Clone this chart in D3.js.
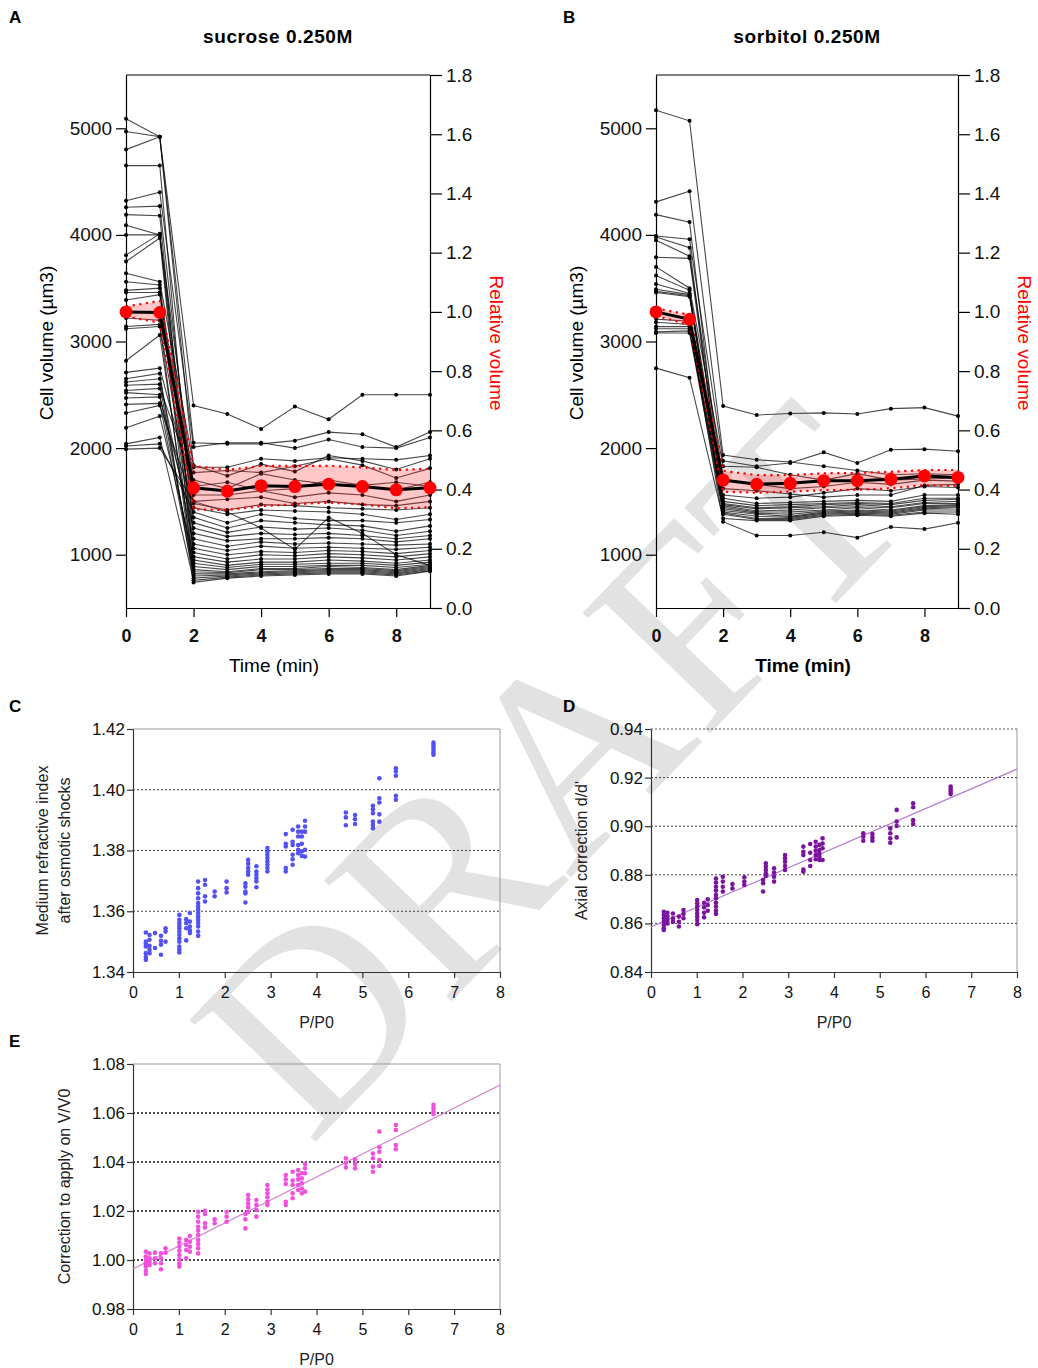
<!DOCTYPE html>
<html><head><meta charset="utf-8">
<script src="https://cdn.jsdelivr.net/npm/d3@7"></script>
<style>body{margin:0;background:#fff}svg{display:block;font-family:"Liberation Sans",Arial,sans-serif}</style>
</head><body>
<script>
// ---------------- DATA ----------------
const timesMin = [0, 1, 2, 3, 4, 5, 6, 7, 8, 9];
const timeTicks = [0, 2, 4, 6, 8];
const volumeTicks = [1000, 2000, 3000, 4000, 5000];
const relativeTicks = [0, 0.2, 0.4, 0.6, 0.8, 1.0, 1.2, 1.4, 1.6, 1.8];

// Panel A: sucrose 0.250M, cell volumes (µm3) per cell, t = 0..9 min
const sucroseVolumes = [
  [5090, 4920, 2400, 2320, 2180, 2390, 2270, 2500, 2500, 2500],
  [4970, 4920, 2050, 2040, 2040, 2070, 2150, 2130, 2010, 2150],
  [4800, 4920, 1820, 1820, 1900, 1880, 1910, 1900, 1890, 1930],
  [4650, 4650, 1150, 1080, 1120, 1100, 1110, 1100, 1090, 1100],
  [4320, 4400, 2010, 2050, 2050, 2000, 2080, 2010, 2000, 2100],
  [4260, 4270, 1440, 1380, 1420, 1410, 1400, 1380, 1330, 1380],
  [4190, 4180, 950, 900, 930, 930, 950, 940, 920, 950],
  [4090, 4000, 1640, 1680, 1600, 1620, 1700, 1650, 1680, 1640],
  [4000, 4000, 1060, 1000, 1030, 1020, 1040, 1030, 1010, 1040],
  [3810, 4010, 1300, 1210, 1260, 1240, 1250, 1230, 1180, 1220],
  [3750, 3970, 860, 840, 870, 870, 890, 880, 860, 900],
  [3640, 3560, 1840, 1740, 1850, 1780, 1930, 1880, 1800, 1900],
  [3560, 3530, 1200, 1130, 1150, 1150, 1160, 1150, 1120, 1150],
  [3480, 3500, 800, 810, 830, 840, 850, 850, 830, 870],
  [3460, 3460, 1500, 1520, 1540, 1480, 1500, 1470, 1460, 1500],
  [3390, 3440, 1020, 960, 1000, 990, 1010, 1000, 980, 1010],
  [3220, 3200, 1770, 1790, 1770, 1830, 1900, 1840, 1720, 1810],
  [3140, 3160, 780, 800, 820, 830, 840, 840, 820, 860],
  [3120, 3140, 1350, 1250, 1320, 1300, 1280, 1270, 1220, 1270],
  [2820, 3060, 920, 880, 910, 910, 920, 920, 900, 930],
  [2710, 2750, 1560, 1560, 1600, 1540, 1580, 1560, 1500, 1560],
  [2650, 2700, 740, 780, 800, 810, 820, 820, 800, 845],
  [2620, 2650, 1100, 1040, 1080, 1060, 1070, 1060, 1050, 1070],
  [2590, 2600, 840, 830, 860, 860, 870, 870, 850, 890],
  [2540, 2560, 1700, 1620, 1760, 1700, 1660, 1640, 1610, 1680],
  [2520, 2500, 890, 860, 890, 890, 900, 900, 880, 910],
  [2470, 2480, 1250, 1170, 1200, 1190, 1200, 1180, 1150, 1180],
  [2410, 2420, 820, 820, 840, 850, 860, 860, 840, 880],
  [2330, 2400, 1480, 1420, 1470, 1460, 1440, 1430, 1420, 1440],
  [2190, 2300, 980, 930, 960, 960, 980, 970, 950, 980],
  [2040, 2100, 760, 790, 810, 820, 830, 830, 810, 850],
  [2020, 2040, 1400, 1300, 1380, 1340, 1320, 1320, 1300, 1330],
  [1990, 2000, 1500, 1400, 1250, 1050, 1350, 1200, 1000, 900]
];
const sucroseMeanRel  = [1.00, 0.998, 0.406, 0.395, 0.413, 0.410, 0.418, 0.410, 0.399, 0.406];
const sucroseUpperRel = [1.018, 1.037, 0.480, 0.466, 0.480, 0.480, 0.480, 0.475, 0.466, 0.470];
const sucroseLowerRel = [0.984, 0.964, 0.333, 0.331, 0.344, 0.350, 0.356, 0.350, 0.337, 0.340];

// Panel B: sorbitol 0.250M
const sorbitolVolumes = [
  [5170, 5070, 2395, 2310, 2325, 2330, 2320, 2370, 2380, 2300],
  [4310, 4410, 1935, 1890, 1870, 1830, 1790, 1750, 1760, 1750],
  [4190, 4120, 1460, 1410, 1420, 1440, 1450, 1440, 1480, 1480],
  [3990, 3960, 1880, 1830, 1860, 1960, 1860, 1985, 1990, 1970],
  [3980, 3880, 1430, 1390, 1380, 1410, 1420, 1410, 1450, 1460],
  [3950, 3800, 1700, 1660, 1620, 1640, 1680, 1660, 1700, 1690],
  [3790, 3780, 1500, 1460, 1470, 1480, 1490, 1480, 1530, 1530],
  [3700, 3500, 1830, 1820, 1750, 1700, 1760, 1700, 1710, 1720],
  [3620, 3480, 1400, 1360, 1350, 1390, 1400, 1390, 1430, 1440],
  [3540, 3450, 1620, 1600, 1570, 1540, 1560, 1560, 1650, 1660],
  [3490, 3440, 1470, 1430, 1440, 1450, 1470, 1450, 1490, 1500],
  [3470, 3430, 1380, 1330, 1330, 1370, 1380, 1370, 1400, 1400],
  [3460, 3420, 1560, 1530, 1540, 1580, 1620, 1600, 1640, 1630],
  [3210, 3190, 1445, 1400, 1400, 1420, 1440, 1420, 1460, 1470],
  [3180, 3160, 1310, 1180, 1180, 1210, 1160, 1260, 1240, 1300],
  [3140, 3140, 1530, 1480, 1490, 1500, 1510, 1500, 1560, 1560],
  [3120, 3120, 1415, 1380, 1360, 1400, 1410, 1400, 1440, 1450],
  [3090, 3100, 1480, 1440, 1450, 1470, 1480, 1470, 1510, 1520],
  [3080, 3080, 1390, 1340, 1340, 1380, 1390, 1380, 1420, 1420],
  [2750, 2660, 1340, 1320, 1320, 1360, 1370, 1360, 1390, 1380]
];
const sorbitolMeanRel  = [1.00, 0.975, 0.432, 0.418, 0.421, 0.430, 0.430, 0.435, 0.446, 0.441];
const sorbitolUpperRel = [1.012, 0.990, 0.463, 0.449, 0.449, 0.455, 0.456, 0.460, 0.466, 0.466];
const sorbitolLowerRel = [0.987, 0.956, 0.393, 0.389, 0.393, 0.398, 0.399, 0.404, 0.415, 0.412];

// Panels C, D, E: one column of points per P/P0 value
const pressureRatio = [0.28, 0.36, 0.48, 0.61, 0.71, 1.01, 1.16, 1.24, 1.42, 1.57, 1.78, 2.04, 2.45, 2.51, 2.69, 2.93, 3.33, 3.48, 3.60, 3.68, 3.75, 4.64, 4.84, 5.23, 5.37, 5.73, 6.55];
const refractiveIndex = [
  [1.3530, 1.3500, 1.3493, 1.3484, 1.3462, 1.3449, 1.3440],
  [1.3522, 1.3506, 1.3486, 1.3473, 1.3462],
  [1.3528, 1.3479],
  [1.3519, 1.3503, 1.3490, 1.3457],
  [1.3544, 1.3533, 1.3500],
  [1.3588, 1.3572, 1.3561, 1.3552, 1.3544, 1.3533, 1.3522, 1.3511, 1.3500, 1.3484, 1.3473, 1.3464],
  [1.3574, 1.3561, 1.3544, 1.3504],
  [1.3594, 1.3566, 1.3550, 1.3537, 1.3528],
  [1.3698, 1.3676, 1.3659, 1.3643, 1.3627, 1.3616, 1.3605, 1.3594, 1.3583, 1.3572, 1.3561, 1.3550, 1.3533, 1.3519],
  [1.3703, 1.3687, 1.3649, 1.3632],
  [1.3665, 1.3649],
  [1.3698, 1.3676, 1.3662],
  [1.3692, 1.3681, 1.3665, 1.3659, 1.3629],
  [1.3769, 1.3756, 1.3742, 1.3731, 1.3720],
  [1.3748, 1.3731, 1.3720, 1.3709, 1.3698, 1.3679],
  [1.3808, 1.3797, 1.3786, 1.3775, 1.3764, 1.3753, 1.3742, 1.3731],
  [1.3854, 1.3822, 1.3813, 1.3742, 1.3731],
  [1.3868, 1.3829, 1.3818, 1.3786, 1.3771, 1.3753],
  [1.3879, 1.3862, 1.3846, 1.3818, 1.3802, 1.3791],
  [1.3862, 1.3846, 1.3822, 1.3797, 1.3782],
  [1.3898, 1.3879, 1.3862, 1.3802, 1.3780],
  [1.3925, 1.3909, 1.3883],
  [1.3917, 1.3903, 1.3887],
  [1.3947, 1.3936, 1.3923, 1.3895, 1.3884, 1.3873],
  [1.4038, 1.3972, 1.3958, 1.3919, 1.3895],
  [1.4071, 1.4060, 1.4046, 1.3980, 1.3967],
  [1.4155, 1.4147, 1.4140, 1.4131, 1.4122, 1.4115]
];
const axialCorrection = [
  [0.8648, 0.8635, 0.8621, 0.8607, 0.8593, 0.8580, 0.8573],
  [0.8644, 0.8628, 0.8614, 0.8600],
  [0.8641, 0.8621, 0.8607],
  [0.8628, 0.8607, 0.8587],
  [0.8655, 0.8639, 0.8621],
  [0.8696, 0.8683, 0.8669, 0.8655, 0.8641, 0.8628, 0.8614, 0.8597],
  [0.8685, 0.8666, 0.8644, 0.8625],
  [0.8699, 0.8676, 0.8652],
  [0.8785, 0.8768, 0.8751, 0.8735, 0.8717, 0.8703, 0.8685, 0.8669, 0.8652, 0.8639],
  [0.8792, 0.8772, 0.8751, 0.8731],
  [0.8762, 0.8744],
  [0.8790, 0.8772, 0.8758],
  [0.8779, 0.8765, 0.8731],
  [0.8847, 0.8833, 0.8820, 0.8806, 0.8795],
  [0.8827, 0.8809, 0.8792, 0.8772],
  [0.8881, 0.8868, 0.8854, 0.8836, 0.8820],
  [0.8916, 0.8895, 0.8881, 0.8822, 0.8813],
  [0.8927, 0.8891, 0.8861, 0.8836],
  [0.8936, 0.8916, 0.8899, 0.8881, 0.8864],
  [0.8923, 0.8902, 0.8888, 0.8875, 0.8861],
  [0.8950, 0.8929, 0.8909, 0.8861],
  [0.8971, 0.8957, 0.8940],
  [0.8968, 0.8954, 0.8940],
  [0.8991, 0.8971, 0.8950, 0.8932],
  [0.9067, 0.9019, 0.9001, 0.8954],
  [0.9094, 0.9078, 0.9025, 0.9009],
  [0.9163, 0.9152, 0.9142, 0.9132]
];
const volumeCorrection = [
  [1.0034, 1.0014, 1.0000, 0.9987, 0.9973, 0.9956, 0.9943],
  [1.0027, 1.0007, 0.9993, 0.9980],
  [1.0030, 1.0007, 0.9987],
  [1.0027, 1.0007, 0.9987, 0.9962],
  [1.0048, 1.0030],
  [1.0088, 1.0071, 1.0054, 1.0038, 1.0020, 1.0003, 0.9987, 0.9973],
  [1.0082, 1.0061, 1.0041, 1.0007],
  [1.0098, 1.0075, 1.0054, 1.0034],
  [1.0197, 1.0177, 1.0156, 1.0136, 1.0120, 1.0102, 1.0082, 1.0065, 1.0048, 1.0027],
  [1.0201, 1.0188, 1.0150, 1.0133],
  [1.0166, 1.0150],
  [1.0197, 1.0177, 1.0156],
  [1.0188, 1.0166, 1.0129],
  [1.0265, 1.0248, 1.0231, 1.0215, 1.0197],
  [1.0245, 1.0225, 1.0204, 1.0177],
  [1.0306, 1.0288, 1.0272, 1.0256, 1.0238, 1.0225],
  [1.0347, 1.0329, 1.0310, 1.0238, 1.0225],
  [1.0360, 1.0324, 1.0306, 1.0272, 1.0252],
  [1.0367, 1.0347, 1.0329, 1.0306, 1.0286],
  [1.0354, 1.0333, 1.0313, 1.0292, 1.0272],
  [1.0392, 1.0374, 1.0354, 1.0279],
  [1.0415, 1.0397, 1.0378],
  [1.0411, 1.0392, 1.0374],
  [1.0435, 1.0415, 1.0381, 1.0360],
  [1.0524, 1.0460, 1.0442, 1.0408, 1.0384],
  [1.0551, 1.0531, 1.0469, 1.0452],
  [1.0633, 1.0619, 1.0605, 1.0596]
];
const axialFit = [[0, 0.8585], [8, 0.9235]];
const volumeFit = [[0, 0.9963], [8, 1.0714]];
const pressureTicks = [0, 1, 2, 3, 4, 5, 6, 7, 8];
const refractiveTicks = [1.34, 1.36, 1.38, 1.40, 1.42];
const axialTicks = [0.84, 0.86, 0.88, 0.90, 0.92, 0.94];
const correctionTicks = [0.98, 1.00, 1.02, 1.04, 1.06, 1.08];

// ---------------- DRAWING ----------------
const svg = d3.select("body").append("svg").attr("width", 1038).attr("height", 1368);
svg.append("rect").attr("width", 1038).attr("height", 1368).attr("fill", "#fff");

// watermark (behind everything)
svg.append("text")
  .attr("transform", "translate(550,768) rotate(-46)")
  .attr("text-anchor", "middle").attr("dy", "0.34em")
  .style("font-family", "'Liberation Serif','Times New Roman',serif")
  .style("font-size", "268px").attr("fill", "#e2e2e2")
  .text("DRAFT");

function styleAxis(g, color, fontSize, bold) {
  g.selectAll("path.domain").attr("stroke", color).attr("stroke-width", 1.2);
  g.selectAll(".tick line").attr("stroke", color).attr("stroke-width", 1.2);
  g.selectAll(".tick text").attr("fill", "#111")
    .style("font-size", fontSize + "px")
    .style("font-family", "'Liberation Sans',Arial,sans-serif")
    .style("font-weight", bold ? "bold" : "normal");
}

function timePanel(cfg) {
  const x = d3.scaleLinear().domain([0, 9]).range([cfg.x0, cfg.x1]);
  const yV = d3.scaleLinear().domain([500, 5500]).range([608, 75]);
  const yR = d3.scaleLinear().domain([0, 1.8]).range([608, 75]);
  const g = svg.append("g");

  // top frame
  g.append("line").attr("x1", cfg.x0).attr("x2", cfg.x1).attr("y1", 75).attr("y2", 75)
    .attr("stroke", "#000").attr("stroke-width", 1.2);

  const ax = g.append("g").attr("transform", "translate(0,608)")
    .call(d3.axisBottom(x).tickValues(timeTicks).tickSize(9).tickSizeOuter(0).tickPadding(12).tickFormat(d3.format("d")));
  styleAxis(ax, "#000", 18, true);
  const al = g.append("g").attr("transform", `translate(${cfg.x0},0)`)
    .call(d3.axisLeft(yV).tickValues(volumeTicks).tickSize(10).tickSizeOuter(0).tickPadding(4).tickFormat(d3.format("d")));
  styleAxis(al, "#000", 19, false);
  const ar = g.append("g").attr("transform", `translate(${cfg.x1},0)`)
    .call(d3.axisRight(yR).tickValues(relativeTicks).tickSize(12).tickSizeOuter(0).tickPadding(4).tickFormat(d3.format(".1f")));
  styleAxis(ar, "#000", 19, false);

  // individual cells
  const line = d3.line().x((d, i) => x(timesMin[i])).y(d => yV(d));
  cfg.volumes.forEach(row => {
    g.append("path").datum(row).attr("d", line).attr("fill", "none")
      .attr("stroke", "#000").attr("stroke-opacity", 0.72).attr("stroke-width", 1.1);
    g.selectAll(null).data(row).enter().append("circle")
      .attr("cx", (d, i) => x(timesMin[i])).attr("cy", d => yV(d)).attr("r", 2).attr("fill", "#000");
  });

  // SD band
  const area = d3.area().x((d, i) => x(timesMin[i]))
    .y0((d, i) => yR(cfg.lower[i])).y1((d, i) => yR(cfg.upper[i]));
  g.append("path").datum(cfg.mean).attr("d", area).attr("fill", "#ff2020").attr("fill-opacity", 0.25);
  const lr = d3.line().x((d, i) => x(timesMin[i])).y(d => yR(d));
  [cfg.upper, cfg.lower].forEach(arr => {
    g.append("path").datum(arr).attr("d", lr).attr("fill", "none")
      .attr("stroke", "#ff0000").attr("stroke-width", 2.2).attr("stroke-dasharray", "2.2,4.5");
  });
  g.append("path").datum(cfg.mean).attr("d", lr).attr("fill", "none")
    .attr("stroke", "#000").attr("stroke-width", 3);
  g.selectAll(null).data(cfg.mean).enter().append("circle")
    .attr("cx", (d, i) => x(timesMin[i])).attr("cy", d => yR(d)).attr("r", 6.5).attr("fill", "#ff0000");

  // texts
  svg.append("text").attr("x", cfg.letterX).attr("y", 23).text(cfg.letter)
    .style("font-size", "17px").style("font-weight", "bold");
  svg.append("text").attr("x", (cfg.x0 + cfg.x1) / 2).attr("y", 43).attr("text-anchor", "middle")
    .text(cfg.title).style("font-size", "19px").style("font-weight", "bold").style("letter-spacing", "0.6px");
  svg.append("text").attr("x", (cfg.x0 + cfg.x1) / 2 - 4).attr("y", 672).attr("text-anchor", "middle")
    .text("Time (min)").style("font-size", "19px").style("font-weight", cfg.boldX ? "bold" : "normal");
  svg.append("text").attr("transform", `translate(${cfg.x0 - 73},343) rotate(-90)`).attr("text-anchor", "middle")
    .text("Cell volume (µm3)").style("font-size", "19px");
  svg.append("text").attr("transform", `translate(${cfg.x1 + 60},343) rotate(90)`).attr("text-anchor", "middle")
    .text("Relative volume").style("font-size", "19px").attr("fill", "#ff0000");
}

timePanel({ x0: 126, x1: 430, volumes: sucroseVolumes, mean: sucroseMeanRel, upper: sucroseUpperRel,
  lower: sucroseLowerRel, title: "sucrose 0.250M", letter: "A", letterX: 9, boldX: false });
timePanel({ x0: 656, x1: 958, volumes: sorbitolVolumes, mean: sorbitolMeanRel, upper: sorbitolUpperRel,
  lower: sorbitolLowerRel, title: "sorbitol 0.250M", letter: "B", letterX: 563, boldX: true });

function scatterPanel(cfg) {
  const x = d3.scaleLinear().domain([0, 8]).range([cfg.x0, cfg.x1]);
  const y = d3.scaleLinear().domain(cfg.domain).range([cfg.yb, cfg.yt]);
  const g = svg.append("g");
  // frame (top/right)
  g.append("line").attr("x1", cfg.x0).attr("x2", cfg.x1).attr("y1", cfg.yt).attr("y2", cfg.yt)
    .attr("stroke", cfg.topDotted ? "#555" : "#999").attr("stroke-width", 1)
    .attr("stroke-dasharray", cfg.topDotted ? "2,2" : null);
  g.append("line").attr("x1", cfg.x1).attr("x2", cfg.x1).attr("y1", cfg.yt).attr("y2", cfg.yb)
    .attr("stroke", "#999").attr("stroke-width", 1);
  // grid
  cfg.grid.forEach(v => {
    g.append("line").attr("x1", cfg.x0).attr("x2", cfg.x1).attr("y1", y(v)).attr("y2", y(v))
      .attr("stroke", cfg.gridColor).attr("stroke-width", cfg.gridWidth).attr("stroke-dasharray", "2,2");
  });
  const ax = g.append("g").attr("transform", `translate(0,${cfg.yb})`)
    .call(d3.axisBottom(x).tickValues(pressureTicks).tickSize(6).tickSizeOuter(0).tickPadding(9).tickFormat(d3.format("d")));
  styleAxis(ax, "#333", 16, false);
  const ay = g.append("g").attr("transform", `translate(${cfg.x0},0)`)
    .call(d3.axisLeft(y).tickValues(cfg.ticks).tickSize(6).tickSizeOuter(0).tickPadding(2).tickFormat(d3.format(".2f")));
  styleAxis(ay, "#333", 17, false);

  if (cfg.fit) {
    g.append("line").attr("x1", x(cfg.fit[0][0])).attr("y1", y(cfg.fit[0][1]))
      .attr("x2", x(cfg.fit[1][0])).attr("y2", y(cfg.fit[1][1]))
      .attr("stroke", cfg.fitColor).attr("stroke-width", 1.2);
  }
  cfg.values.forEach((col, i) => {
    g.selectAll(null).data(col).enter().append("circle")
      .attr("cx", x(pressureRatio[i])).attr("cy", d => y(d)).attr("r", 2.3).attr("fill", cfg.color);
  });

  svg.append("text").attr("x", cfg.letterX).attr("y", cfg.yt - 17).text(cfg.letter)
    .style("font-size", "17px").style("font-weight", "bold");
  svg.append("text").attr("x", (cfg.x0 + cfg.x1) / 2).attr("y", cfg.yb + 56).attr("text-anchor", "middle")
    .text("P/P0").style("font-size", "16px").attr("fill", "#222");
  cfg.ylabel.forEach((t, k) => {
    svg.append("text").attr("transform", `translate(${cfg.ylx + k * 22},${(cfg.yt + cfg.yb) / 2}) rotate(-90)`)
      .attr("text-anchor", "middle").text(t).style("font-size", "16px").attr("fill", "#222");
  });
}

scatterPanel({ x0: 133, x1: 500, yt: 729, yb: 972, domain: [1.34, 1.42], ticks: refractiveTicks,
  grid: [1.36, 1.38, 1.40], gridColor: "#444", gridWidth: 1, values: refractiveIndex, color: "#5252f2",
  letter: "C", letterX: 9, ylabel: ["Medium refractive index", "after osmotic shocks"], ylx: 48 });
scatterPanel({ x0: 651, x1: 1017, yt: 729, yb: 972, domain: [0.84, 0.94], ticks: axialTicks, topDotted: true,
  grid: [0.86, 0.88, 0.90, 0.92], gridColor: "#444", gridWidth: 1, values: axialCorrection, color: "#7a149f",
  fit: axialFit, fitColor: "#b27ad3", letter: "D", letterX: 563, ylabel: ["Axial correction d/d'"], ylx: 587 });
scatterPanel({ x0: 133, x1: 500, yt: 1064, yb: 1309, domain: [0.98, 1.08], ticks: correctionTicks,
  grid: [1.00, 1.02, 1.04, 1.06], gridColor: "#111", gridWidth: 1.4, values: volumeCorrection, color: "#f050dc",
  fit: volumeFit, fitColor: "#d77ad0", letter: "E", letterX: 9, ylabel: ["Correction to apply on V/V0"], ylx: 70 });
</script>
</body></html>
